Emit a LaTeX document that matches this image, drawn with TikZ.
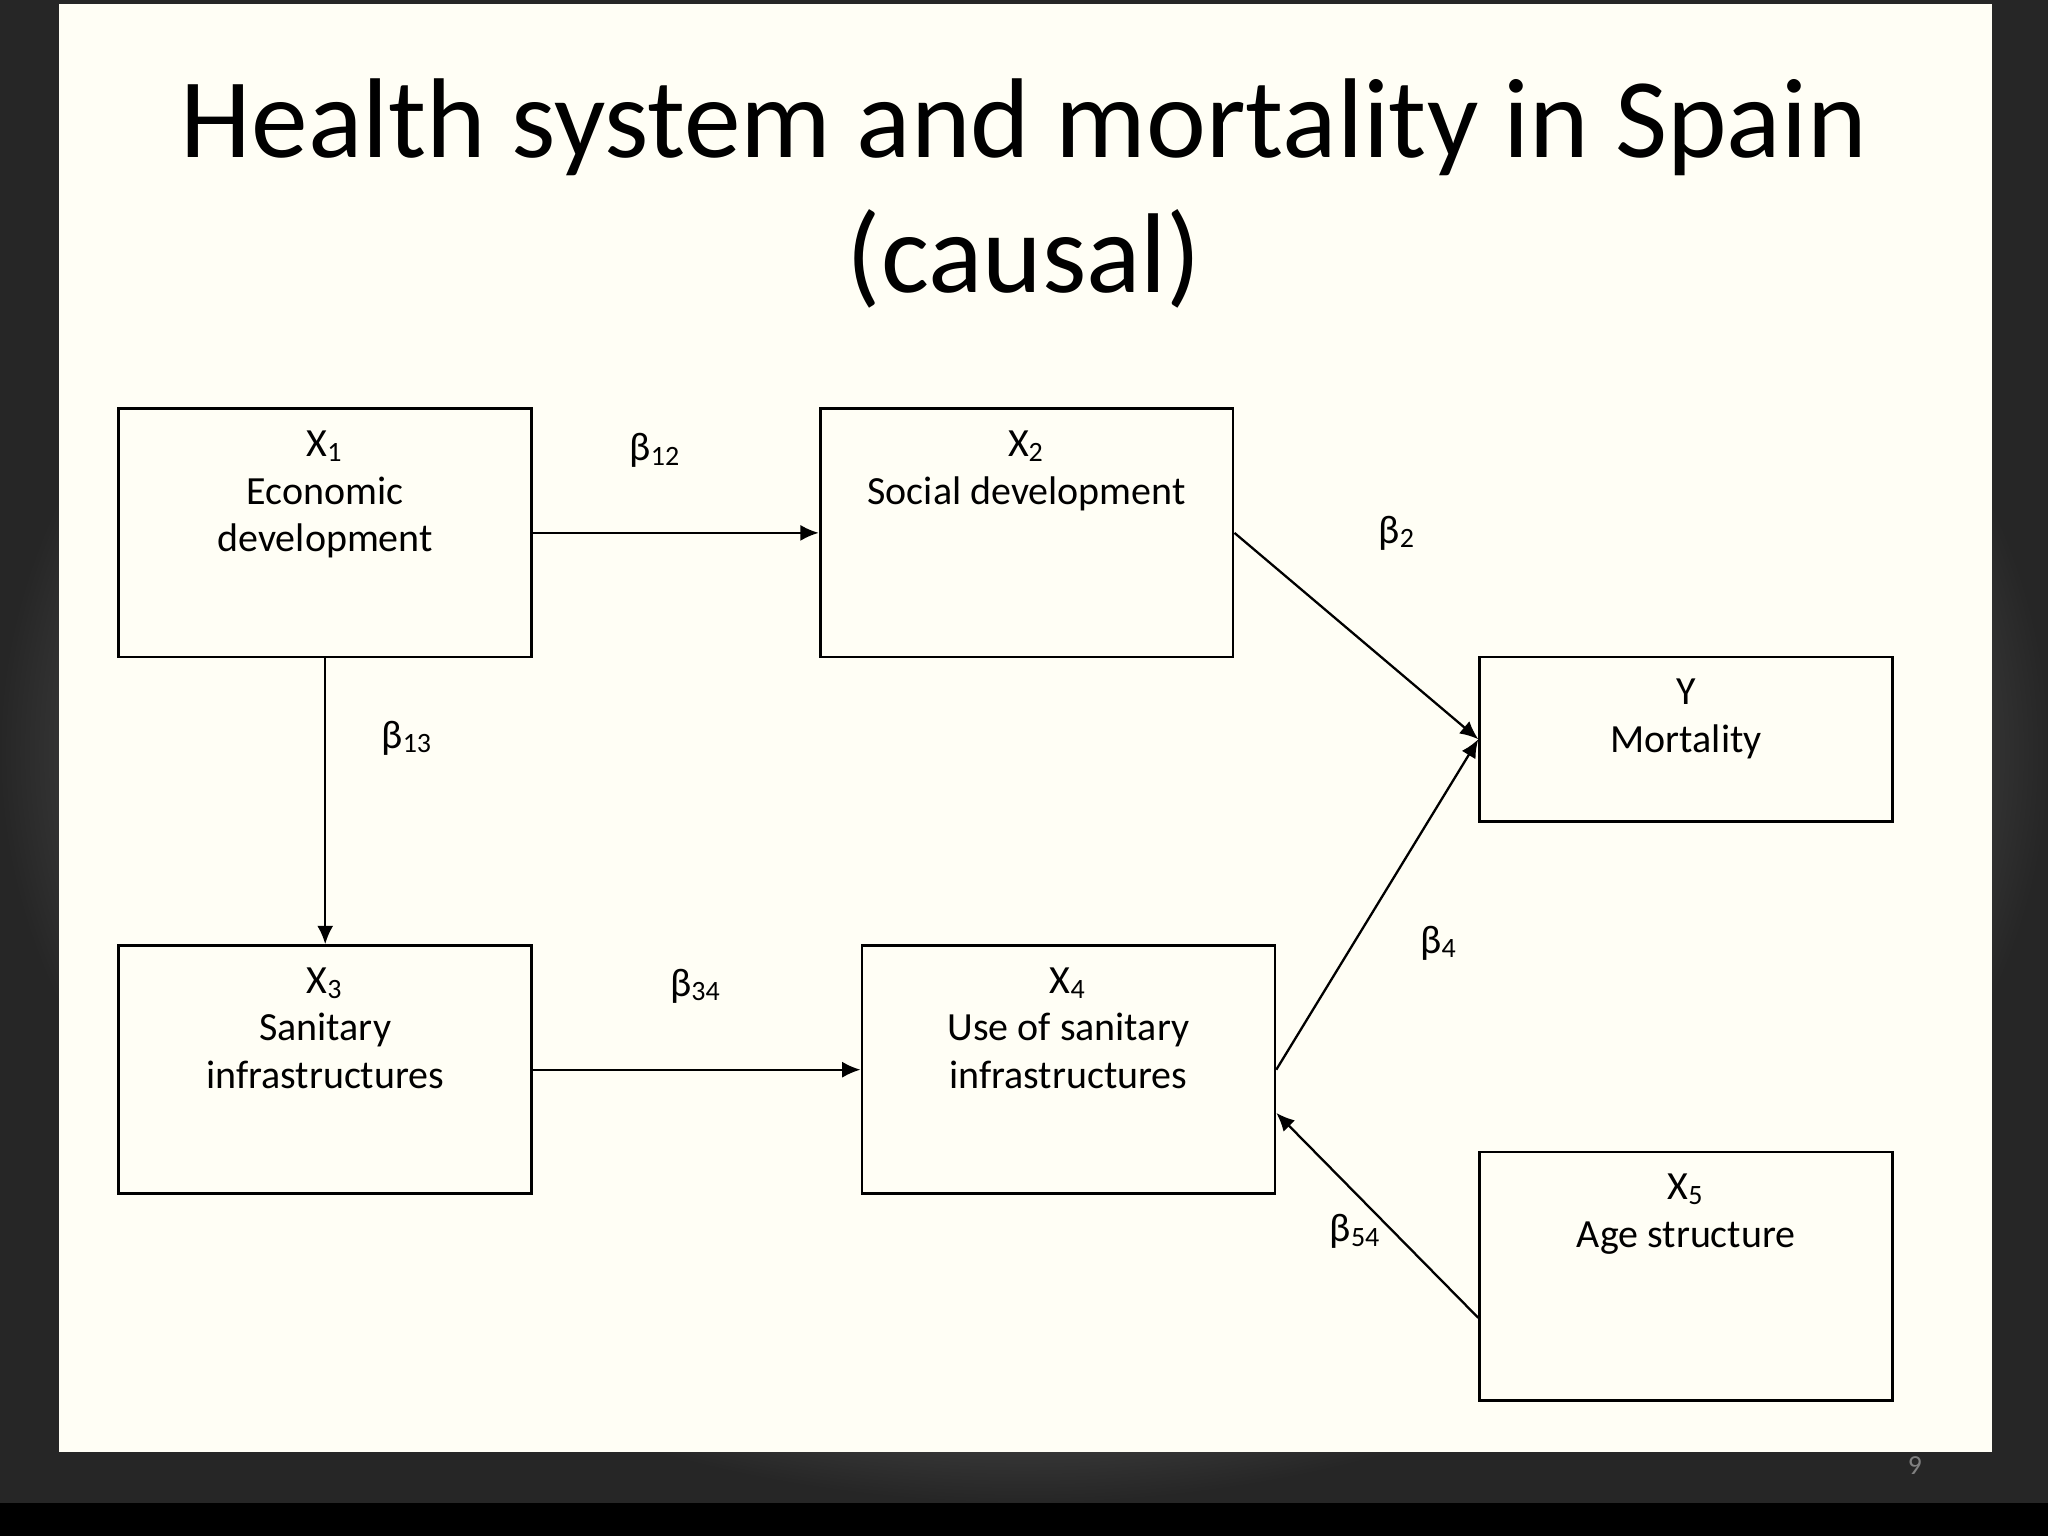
\documentclass[tikz,border=0pt]{standalone}
\usepackage{fontspec}
\setmainfont{Carlito}
\usetikzlibrary{arrows.meta}
\begin{document}
\begin{tikzpicture}[x=0.01cm,y=-0.01cm,
  box/.style={draw,line width=0.6pt,minimum width=3.16cm,align=center,inner sep=0pt,font=\fontsize{8.7}{10.3}\selectfont},
  arr/.style={-{Latex[length=4pt,width=3.5pt]},line width=0.5pt},
  lab/.style={font=\fontsize{8.7}{10.3}\selectfont}]
\fill[black] (0,0) rectangle (1568,1176);
\shade[inner color=white,outer color=gray!30!black] (0,0) rectangle (1568,1150);
\fill[white!96!yellow] (45,3) rectangle (1525,1112);
\node[font=\fontsize{24.7}{29.5}\selectfont,align=center] (title) at (784,148) {Health system and mortality in Spain\\(causal)};
\node[box,minimum height=1.9cm] (x1) at (249,408) {};
\node[box,minimum height=1.9cm] (x2) at (786,408) {};
\node[box,minimum height=1.26cm] (y) at (1291,566) {};
\node[box,minimum height=1.9cm] (x3) at (249,819) {};
\node[box,minimum height=1.9cm] (x4) at (818,819) {};
\node[box,minimum height=1.9cm] (x5) at (1291,977) {};
\node[box,draw=none,anchor=north] (t1) at (249,329) {X\textsubscript{1}\\Economic\\development};
\node[box,draw=none,anchor=north] (t2) at (786,329) {X\textsubscript{2}\\Social development};
\node[box,draw=none,anchor=north] (ty) at (1291,519) {Y\\Mortality};
\node[box,draw=none,anchor=north] (t3) at (249,740) {X\textsubscript{3}\\Sanitary\\infrastructures};
\node[box,draw=none,anchor=north] (t4) at (818,740) {X\textsubscript{4}\\Use of sanitary\\infrastructures};
\node[box,draw=none,anchor=north] (t5) at (1291,898) {X\textsubscript{5}\\Age structure};
\draw[arr] (x1.east) -- (x2.west);
\draw[arr] (x1.south) -- (x3.north);
\draw[arr] (x2.east) -- (y.west);
\draw[arr] (x3.east) -- (x4.west);
\draw[arr] (x4.east) -- (y.west);
\draw[arr] ([yshift=-0.32cm]x5.west) -- ([yshift=-0.33cm]x4.east);
\node[lab] (b12) at (502,345) {β\textsubscript{12}};
\node[lab] (b13) at (312,565) {β\textsubscript{13}};
\node[lab] (b2) at (1070,408) {β\textsubscript{2}};
\node[lab] (b34) at (533,755) {β\textsubscript{34}};
\node[lab] (b4) at (1102,722) {β\textsubscript{4}};
\node[lab] (b54) at (1038,943) {β\textsubscript{54}};
\node[font=\fontsize{6}{7}\selectfont,text=gray] (pg) at (1466,1122) {9};
\end{tikzpicture}
\end{document}
